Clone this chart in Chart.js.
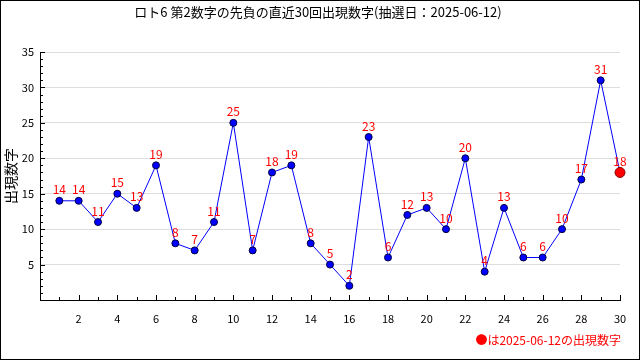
<!DOCTYPE html>
<html>
<head>
<meta charset="utf-8">
<script src="https://cdn.jsdelivr.net/npm/chart.js@4/dist/chart.umd.min.js"></script>
<style>
  html, body { margin: 0; padding: 0; background: #fff; }
  #wrap { width: 640px; height: 360px; position: relative; }
  #wrap:after { content: ""; position: absolute; inset: 0; border: 1px solid #000; box-sizing: border-box; pointer-events: none; }
</style>
</head>
<body>
<div id="wrap"><canvas id="chartLoto" width="640" height="360"></canvas></div>
<script>
// データ
const kaisu = [1,2,3,4,5,6,7,8,9,10,11,12,13,14,15,16,17,18,19,20,21,22,23,24,25,26,27,28,29,30];
const suji = [14,14,11,15,13,19,8,7,11,25,7,18,19,8,5,2,23,6,12,13,10,20,4,13,6,6,10,17,31,18];
const titleText = "ロト6 第2数字の先負の直近30回出現数字(抽選日：2025-06-12)";
const yTitle = "出現数字";
const noteText = "●は2025-06-12の出現数字";

const FONT = "'Noto Sans CJK JP', 'DejaVu Sans', sans-serif";
const lastIdx = suji.length - 1;

const points = kaisu.map((k, i) => ({ x: k, y: suji[i] }));

// 目盛りと文字の描画
const extras = {
    id: 'extras',
    afterDraw(chart) {
        const ctx = chart.ctx;
        const xs = chart.scales.x, ys = chart.scales.y;
        const area = chart.chartArea;
        ctx.save();
        ctx.strokeStyle = '#000';
        ctx.lineWidth = 1;
        ctx.beginPath();
        for (let v = 1; v <= 30; v++) {
            const px = Math.round(xs.getPixelForValue(v)) + 0.5;
            const len = v % 2 === 0 ? 5 : 3;
            ctx.moveTo(px, area.bottom);
            ctx.lineTo(px, area.bottom - len);
        }
        for (let v = 1; v <= 35; v++) {
            const py = Math.round(ys.getPixelForValue(v)) + 0.5;
            const len = v % 5 === 0 ? 5 : 3;
            ctx.moveTo(area.left, py);
            ctx.lineTo(area.left + len, py);
        }
        ctx.stroke();

        // 値ラベル
        const meta = chart.getDatasetMeta(0);
        ctx.fillStyle = '#ff0000';
        ctx.font = '12px ' + FONT;
        ctx.textAlign = 'center';
        ctx.textBaseline = 'bottom';
        meta.data.forEach((pt, i) => {
            ctx.fillText(String(suji[i]), pt.x, pt.y - 5);
        });

        // タイトル
        ctx.fillStyle = '#000';
        ctx.textBaseline = 'middle';
        ctx.font = '13px ' + FONT;
        ctx.fillText(titleText, 318, 12);

        // 縦軸タイトル
        ctx.save();
        ctx.translate(11, 176);
        ctx.rotate(-Math.PI / 2);
        ctx.font = '14px ' + FONT;
        ctx.fillText(yTitle, 0, 0);
        ctx.restore();

        // 注記
        ctx.fillStyle = '#ff0000';
        ctx.font = '12px ' + FONT;
        ctx.textAlign = 'right';
        ctx.fillText(noteText, 621, 340);
        ctx.restore();
    }
};

new Chart(document.getElementById('chartLoto'), {
    type: 'line',
    data: {
        datasets: [{
            data: points,
            clip: false,
            borderColor: '#0000ff',
            borderWidth: 1,
            tension: 0,
            pointRadius: suji.map((v, i) => i === lastIdx ? 5 : 3.5),
            pointBackgroundColor: suji.map((v, i) => i === lastIdx ? '#ff0000' : '#0000ff'),
            pointBorderColor: suji.map((v, i) => i === lastIdx ? '#800000' : '#000040'),
            pointBorderWidth: 1
        }]
    },
    options: {
        responsive: false,
        animation: false,
        devicePixelRatio: 1,
        layout: { padding: { top: 52, right: 20, left: 0, bottom: 0 } },
        plugins: { legend: { display: false }, tooltip: { enabled: false } },
        scales: {
            x: {
                type: 'linear',
                min: 0,
                max: 30,
                afterFit(scale) { scale.height = 60; },
                border: { display: true, color: '#000', width: 1 },
                grid: { drawOnChartArea: false, drawTicks: false },
                ticks: {
                    stepSize: 2,
                    padding: 12,
                    color: '#000',
                    font: { family: FONT, size: 11 },
                    maxRotation: 0,
                    callback: (v) => v === 0 ? '' : v
                }
            },
            y: {
                min: 0,
                max: 35,
                afterFit(scale) { scale.width = 40; },
                border: { display: true, color: '#000', width: 1 },
                grid: { color: '#dddddd', drawTicks: false },
                ticks: {
                    stepSize: 5,
                    padding: 6,
                    color: '#000',
                    font: { family: FONT, size: 11 },
                    callback: (v) => v === 0 ? '' : v
                }
            }
        }
    },
    plugins: [extras]
});
</script>
</body>
</html>
